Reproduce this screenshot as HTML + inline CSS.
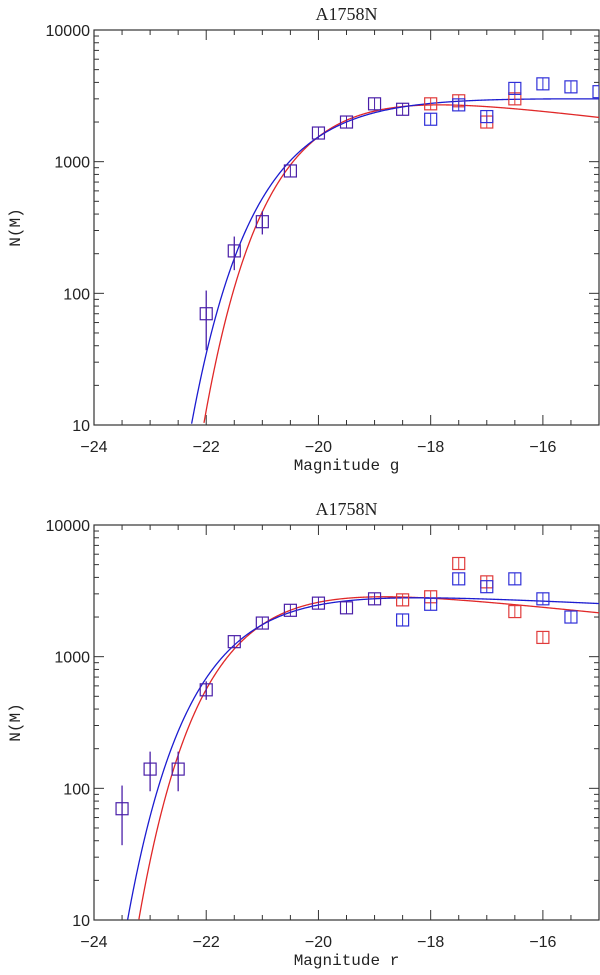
<!DOCTYPE html>
<html><head><meta charset="utf-8"><style>
html,body{margin:0;background:#fff;overflow:hidden;}
svg{display:block;}
svg text{font-family:"Liberation Sans",sans-serif;}
</style></head><body>
<svg id="chart" width="600" height="975" viewBox="0 0 600 975" xmlns="http://www.w3.org/2000/svg"></svg>
<script>
// ---- data ----
const magsG = [-22,-21.5,-21,-20.5,-20,-19.5,-19,-18.5,-18,-17.5,-17,-16.5,-16,-15.5,-15];
const redG  = [70,210,350,850,1650,2000,2750,2500,2750,2900,2000,3000,null,null,null];
const blueG = [70,210,350,850,1650,2000,2750,2500,2100,2700,2200,3600,3900,3700,3400];
const errLoG = [37,150,280,null,null,null,null,null,null,null,null,null,null,null,null];
const errHiG = [105,270,420,null,null,null,null,null,null,null,null,null,null,null,null];
const magsR = [-23.5,-23,-22.5,-22,-21.5,-21,-20.5,-20,-19.5,-19,-18.5,-18,-17.5,-17,-16.5,-16,-15.5];
const redR  = [70,140,140,560,1300,1800,2250,2550,2350,2750,2700,2850,5100,3700,2200,1400,null];
const blueR = [70,140,140,560,1300,1800,2250,2550,2350,2750,1900,2500,3900,3400,3900,2750,2000];
const errLoR = [37,95,95,470,null,null,null,null,null,null,null,null,null,null,null,null,null];
const errHiR = [105,190,190,650,null,null,null,null,null,null,null,null,null,null,null,null,null];
// Schechter fit parameters: [Mstar, alpha+1, peak N]
const fitRedG = [-20.06, 0.13, 2700];
const fitBlueG = [-20.36, 0.01, 3000];
const fitRedR = [-21.22, 0.11, 2850];
const fitBlueR = [-21.47, 0.05, 2800];
const xTicks = [-24,-22,-20,-18,-16];
const yTicks = [10,100,1000,10000];

const NS="http://www.w3.org/2000/svg";
const svg=document.getElementById('chart');
function mk(tag,attrs,parent){const e=document.createElementNS(NS,tag);for(const k in attrs)e.setAttribute(k,attrs[k]);(parent||svg).appendChild(e);return e;}

function panel(top,label,mags,red,blue,lo,hi,fr,fb,pname){
  const L=94,R=599,T=top,B=top+395;
  const g=mk('g',{});
  
  
  const xs=m=>L+(m+24)*(R-L)/9;
  const ys=v=>B-(Math.log10(v)-1)*(B-T)/3;
  const cid=pname+'-clip';
  const cp=mk('clipPath',{id:cid},g);mk('rect',{x:L,y:T,width:R-L,height:B-T},cp);
  const frame=mk('rect',{x:L,y:T,width:R-L,height:B-T,fill:'none',stroke:'#333','stroke-width':1.2},g);
  
  
  for(let m=-24;m<=-15;m+=0.5){
    const major=Math.abs(m%2)<1e-9;const len=major?10:5;const x=xs(m);
    mk('line',{x1:x,y1:B,x2:x,y2:B-len,stroke:'#333'},g);
    mk('line',{x1:x,y1:T,x2:x,y2:T+len,stroke:'#333'},g);
  }
  xTicks.forEach(t=>{const tx=mk('text',{x:xs(t),y:B+27,'text-anchor':'middle','font-size':16,fill:'#222'},g);tx.textContent='\u2212'+Math.abs(t);
    
    });
  for(let d=1;d<=4;d++){for(let k=1;k<=9;k++){const v=k*Math.pow(10,d);if(v>10000)break;const y=ys(v);const len=k===1?10:5;
    mk('line',{x1:L,y1:y,x2:L+len,y2:y,stroke:'#333'},g);mk('line',{x1:R,y1:y,x2:R-len,y2:y,stroke:'#333'},g);}}
  yTicks.forEach(t=>{const tx=mk('text',{x:L-4,y:ys(t)+6,'text-anchor':'end','font-size':16,fill:'#222'},g);tx.textContent=t;
    
    });
  const tt=mk('text',{x:(L+R)/2,y:T-10,'text-anchor':'middle','font-size':18,fill:'#222',style:'font-family:"Liberation Serif",serif'},g);tt.textContent='A1758N';
  
  
  const xl=mk('text',{x:(L+R)/2,y:B+45,'text-anchor':'middle','font-size':16,fill:'#222',style:'font-family:"Liberation Mono",monospace'},g);xl.textContent='Magnitude '+label;
  
  
  const yl=mk('text',{x:0,y:0,'text-anchor':'middle','font-size':16,fill:'#222',transform:`translate(20,${(T+B)/2}) rotate(-90)`,style:'font-family:"Liberation Mono",monospace'},g);yl.textContent='N(M)';
  
  
  function curve(p,color,name){const [Ms,a1,Np]=p;const xp=Math.max(a1,1e-4);const phi=Np/(Math.pow(xp,a1)*Math.exp(-xp));
    let d='';for(let m=-24;m<=-15.001+0.02;m+=0.01){const x=Math.pow(10,0.4*(Ms-m));const v=phi*Math.pow(x,a1)*Math.exp(-x);if(v<10)continue;const yy=ys(v);d+=(d?'L':'M')+Math.min(xs(m),R).toFixed(2)+','+yy.toFixed(2);}
    const pth=mk('path',{d:d,fill:'none',stroke:color,'stroke-width':1.3,'clip-path':`url(#${cid})`},g);
    
    }
  curve(fr,'#e02828','red-fit-curve');
  curve(fb,'#1c1cd0','blue-fit-curve');
  const h=6;
  function sq(m,v,color,name){const x=xs(m),y=ys(v);
    const r=mk('rect',{x:x-h,y:y-h,width:2*h,height:2*h,fill:'none',stroke:color,'stroke-width':1.2,'clip-path':`url(#${cid})`},g);
    
    
    mk('line',{x1:x,y1:y-h,x2:x,y2:y+h,stroke:color,'stroke-width':1,'clip-path':`url(#${cid})`},g);}
  mags.forEach((m,i)=>{
    const same=red[i]!=null&&red[i]===blue[i];
    if(lo[i]!=null){const l=mk('line',{x1:xs(m),y1:ys(lo[i]),x2:xs(m),y2:ys(hi[i]),stroke:'#4a1fa8','stroke-width':1.3},g);
      
      }
    if(same){sq(m,red[i],'#4a1fa8','shared-point');}
    else{if(red[i]!=null)sq(m,red[i],'#e03a3a','red-point');if(blue[i]!=null)sq(m,blue[i],'#3030d8','blue-point');}
  });
}
panel(30,'g',magsG,redG,blueG,errLoG,errHiG,fitRedG,fitBlueG,'panel-g');
panel(525,'r',magsR,redR,blueR,errLoR,errHiR,fitRedR,fitBlueR,'panel-r');
</script>
</body></html>
